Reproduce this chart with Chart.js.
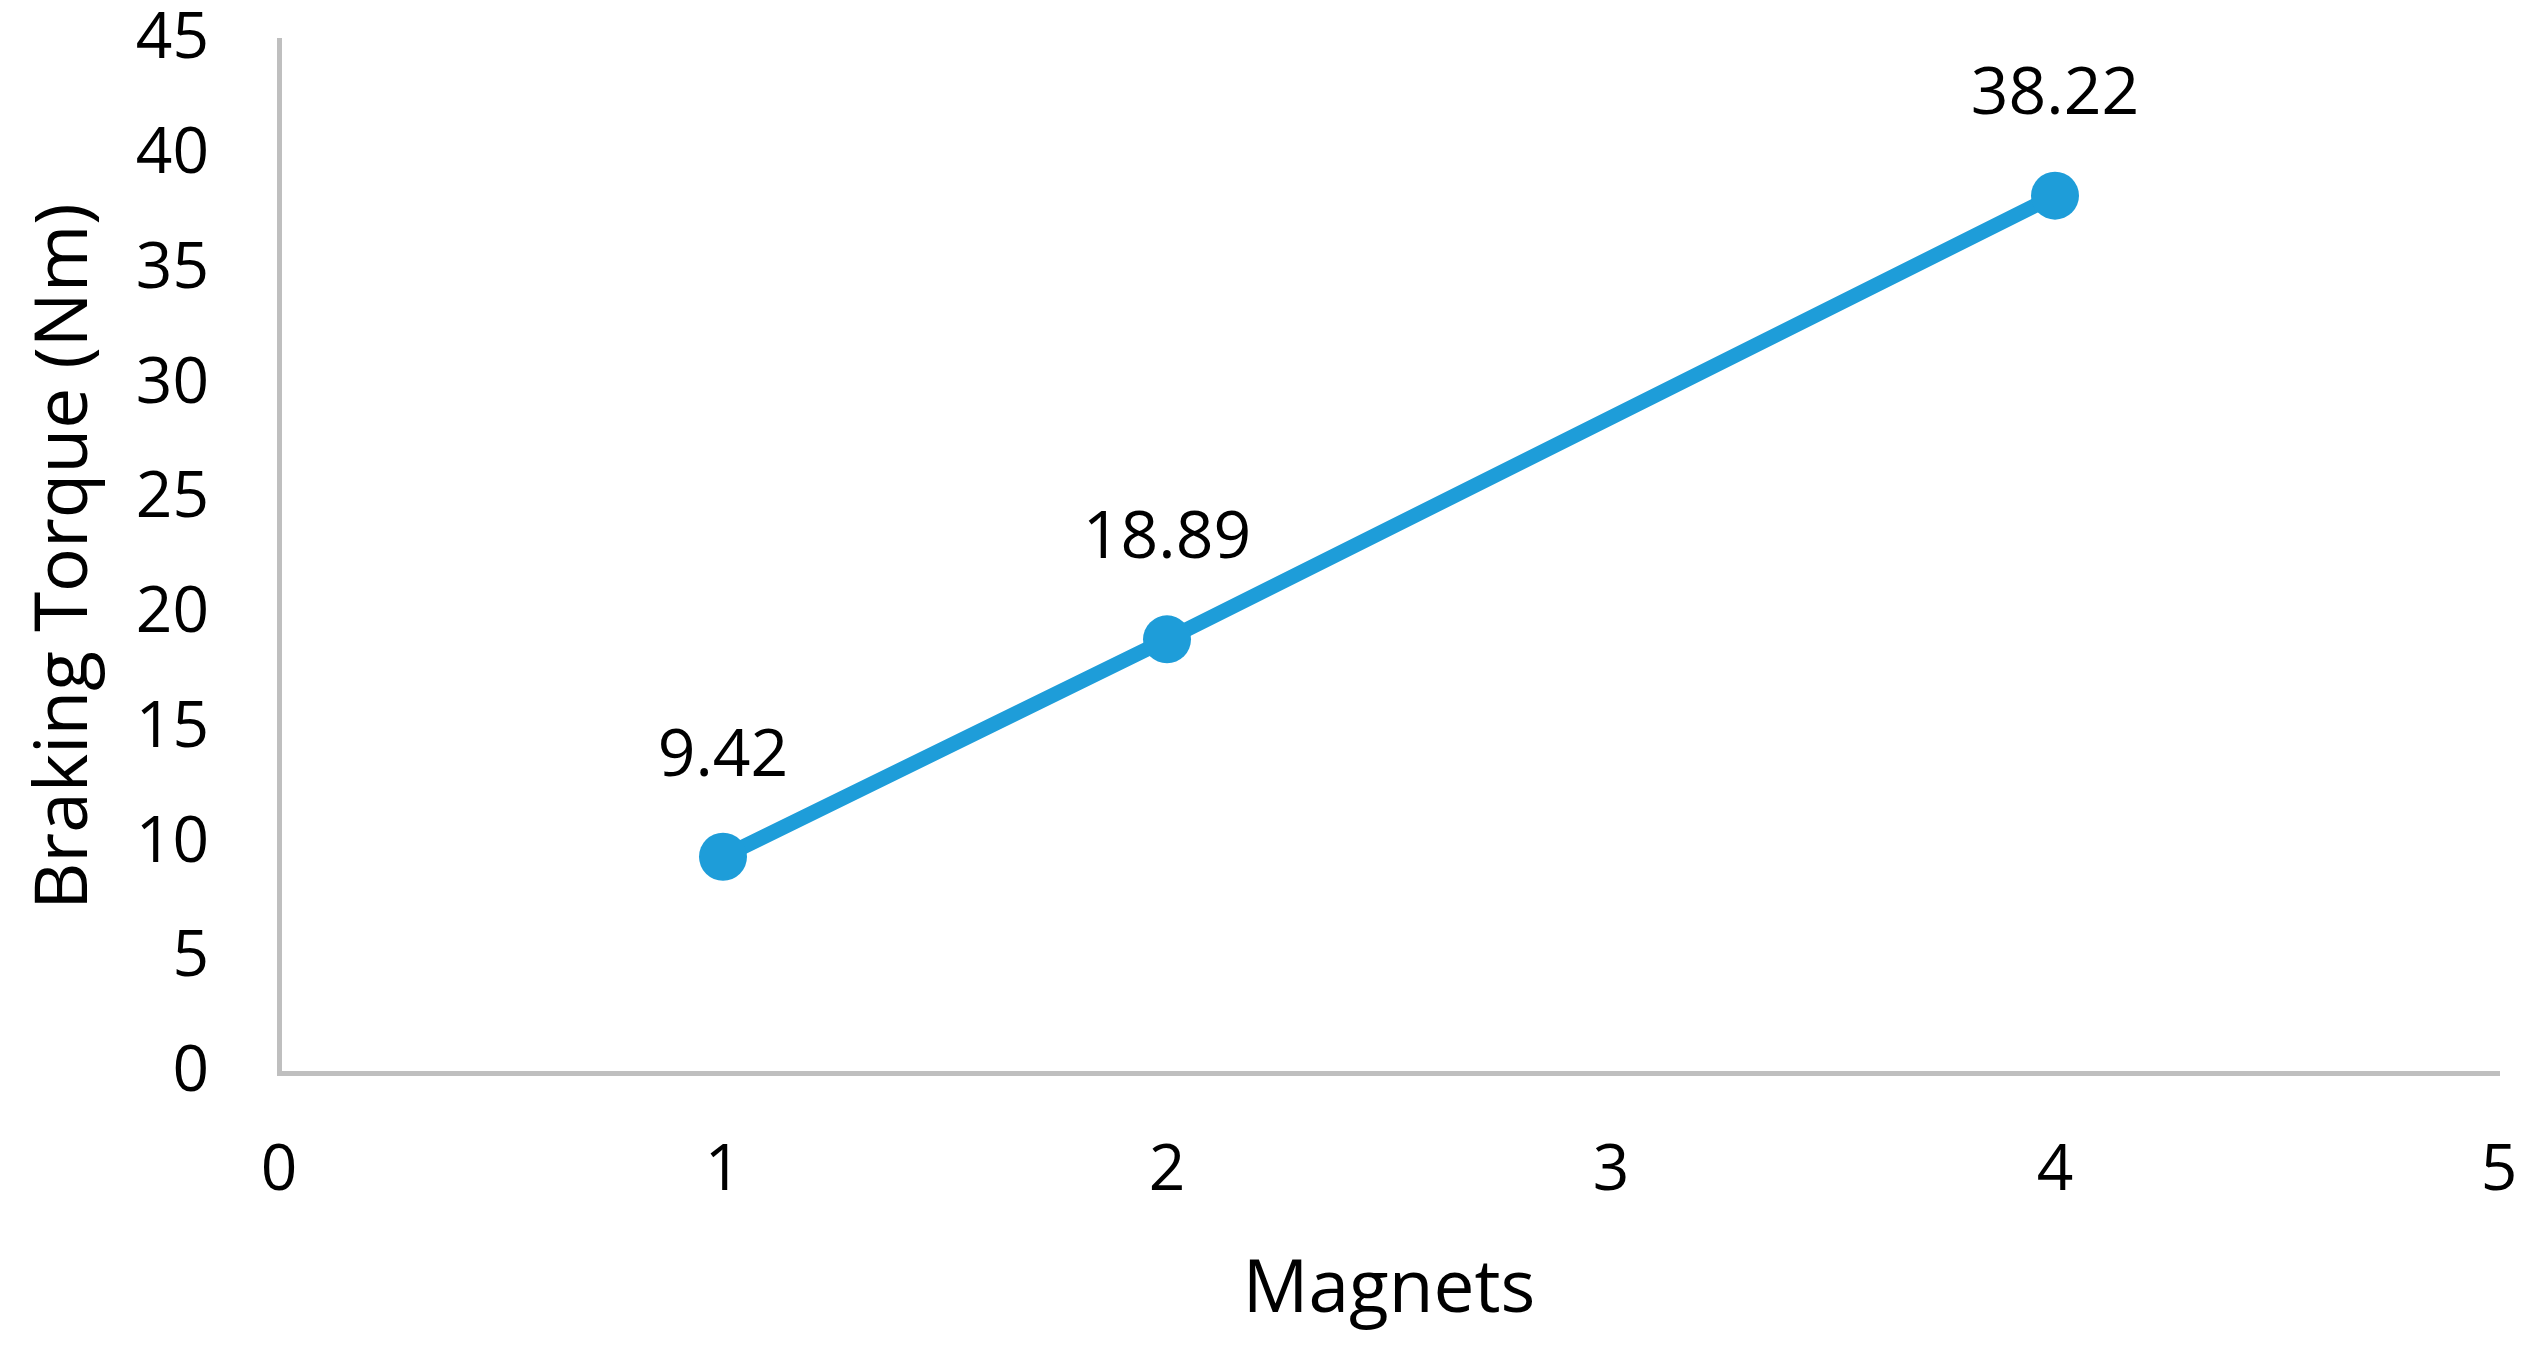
<!DOCTYPE html>
<html lang="en">
<head>
  <meta charset="UTF-8" />
  <title>Braking Torque vs Magnets</title>
  <script src="https://cdn.jsdelivr.net/npm/chart.js"></script>
  <style>
    html, body {
      margin: 0;
      padding: 0;
      background: #ffffff;
    }
    canvas {
      display: block;
    }
  </style>
</head>
<body>

  <canvas id="torqueChart" width="2542" height="1345"></canvas>

  <script>
    // data
    const magnets = [1, 2, 4];
    const brakingTorque = [9.42, 18.89, 38.22];
    const torqueLabels = ['9.42', '18.89', '38.22'];

    // axis ranges
    const xRange = [0, 5];
    const xStep = 1;
    const yRange = [0, 45];
    const yStep = 5;

    const FONT = "'Open Sans', 'Noto Sans', sans-serif";
    const BLUE = '#1E9DD9';
    const AXIS_GREY = '#BFBFBF';

    // draws the number above each point
    const pointLabels = {
      id: 'pointLabels',
      afterDatasetsDraw(chart) {
        const ctx = chart.ctx;
        const meta = chart.getDatasetMeta(0);
        ctx.save();
        ctx.font = '66px ' + FONT;
        ctx.fillStyle = '#000000';
        ctx.textAlign = 'center';
        ctx.textBaseline = 'middle';
        meta.data.forEach((pt, i) => {
          ctx.fillText(torqueLabels[i], pt.x, pt.y - 100);
        });
        ctx.restore();
      }
    };

    // keep the plot area fixed: no extra room for overhanging tick labels
    function fixBox(size, key) {
      return function (scale) {
        scale[key] = size;
        scale.paddingTop = 0;
        scale.paddingBottom = 0;
        scale.paddingLeft = 0;
        scale.paddingRight = 0;
      };
    }

    const ctx = document.getElementById('torqueChart').getContext('2d');

    new Chart(ctx, {
      type: 'scatter',
      data: {
        datasets: [{
          data: magnets.map((m, i) => ({ x: m, y: brakingTorque[i] })),
          showLine: true,
          borderColor: BLUE,
          backgroundColor: BLUE,
          borderWidth: 15,
          pointRadius: 24,
          pointHoverRadius: 24,
          pointBorderWidth: 0
        }]
      },
      plugins: [pointLabels],
      options: {
        responsive: false,
        devicePixelRatio: 1,
        animation: false,
        layout: {
          padding: { top: 40, right: 43, bottom: 0, left: 0 }
        },
        plugins: {
          legend: { display: false },
          tooltip: { enabled: false }
        },
        scales: {
          x: {
            type: 'linear',
            min: xRange[0],
            max: xRange[1],
            afterFit: fixBox(272, 'height'),
            grid: { display: false, drawTicks: false },
            border: { display: true, color: AXIS_GREY, width: 5 },
            ticks: {
              stepSize: xStep,
              padding: 60,
              color: '#000000',
              font: { family: FONT, size: 64 }
            },
            title: {
              display: true,
              text: 'Magnets',
              color: '#000000',
              font: { family: FONT, size: 73 },
              padding: { top: 0, bottom: 10 }
            }
          },
          y: {
            min: yRange[0],
            max: yRange[1],
            afterFit: fixBox(279, 'width'),
            grid: { display: false, drawTicks: false },
            border: { display: true, color: AXIS_GREY, width: 5 },
            ticks: {
              stepSize: yStep,
              padding: 70,
              color: '#000000',
              font: { family: FONT, size: 64 }
            },
            title: {
              display: true,
              text: 'Braking Torque (Nm)',
              color: '#000000',
              font: { family: FONT, size: 73 },
              padding: { top: 22, bottom: 0 }
            }
          }
        }
      }
    });
  </script>

</body>
</html>
